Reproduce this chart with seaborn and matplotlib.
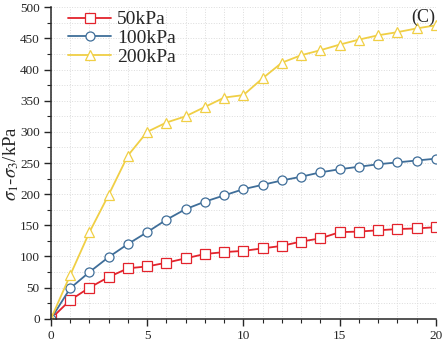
import numpy as np
import pandas as pd
import matplotlib
matplotlib.use("Agg")
import matplotlib.pyplot as plt
from matplotlib.ticker import MultipleLocator
import seaborn as sns

strain = list(range(0, 21))
s50 = [0, 30, 50, 67, 81, 84, 90, 97, 104, 107, 109, 113, 117, 124, 129, 139, 140, 142, 144, 145, 147]
s100 = [0, 49, 75, 99, 120, 139, 159, 176, 188, 198, 208, 215, 222, 228, 235, 240, 244, 248, 251, 254, 257]
s200 = [0, 70, 139, 199, 262, 300, 315, 325, 340, 355, 359, 386, 411, 423, 431, 440, 448, 455, 460, 466, 471]
labels = ["50kPa", "100kPa", "200kPa"]
colors = ["#e3232c", "#3f6e99", "#f0cf45"]
markers = ["s", "o", "^"]

sns.set_style("ticks")
plt.rcParams["font.family"] = ["Liberation Serif", "DejaVu Serif"]
plt.rcParams["mathtext.fontset"] = "stix"

fig = plt.figure(figsize=(4.47, 3.45), dpi=100)
ax = fig.add_axes([0.114, 0.076, 0.861, 0.903])

for vals, lab, c, m in zip([s50, s100, s200], labels, colors, markers):
    df = pd.DataFrame({"x": strain, "y": vals})
    sns.lineplot(data=df, x="x", y="y", ax=ax, color=c, marker=m, label=lab,
                 markersize=6.5, markerfacecolor="white", markeredgecolor=c,
                 markeredgewidth=0.9, linewidth=1.3)

ax.set_xlim(0, 20)
ax.set_ylim(0, 500)
ax.xaxis.set_major_locator(MultipleLocator(5))
ax.xaxis.set_minor_locator(MultipleLocator(1))
ax.yaxis.set_major_locator(MultipleLocator(50))
ax.yaxis.set_minor_locator(MultipleLocator(25))
ax.grid(which="both", color="#dcdcdc", linestyle=":", linewidth=0.7)
ax.tick_params(which="major", direction="out", length=5, width=1, labelsize=9.5, pad=3)
ax.tick_params(which="minor", direction="out", length=3, width=0.8)
for s in ["top", "right"]:
    ax.spines[s].set_visible(False)
for s in ["left", "bottom"]:
    ax.spines[s].set_linewidth(1.1)

ax.set_xlabel("")
ax.set_ylabel("")
fig.text(0.026, 0.527, r"$\it{\sigma_1}$-$\it{\sigma_3}$/kPa", rotation=90,
         ha="center", va="center", fontsize=13.5)
ax.legend(loc="upper left", frameon=False, fontsize=14, handlelength=2.2,
          borderaxespad=0.1, labelspacing=0.05, handletextpad=0.3,
          bbox_to_anchor=(0.02, 1.02))
ax.text(0.998, 0.995, "(C)", transform=ax.transAxes, ha="right", va="top", fontsize=13)

fig.savefig("out.png", dpi=100)
